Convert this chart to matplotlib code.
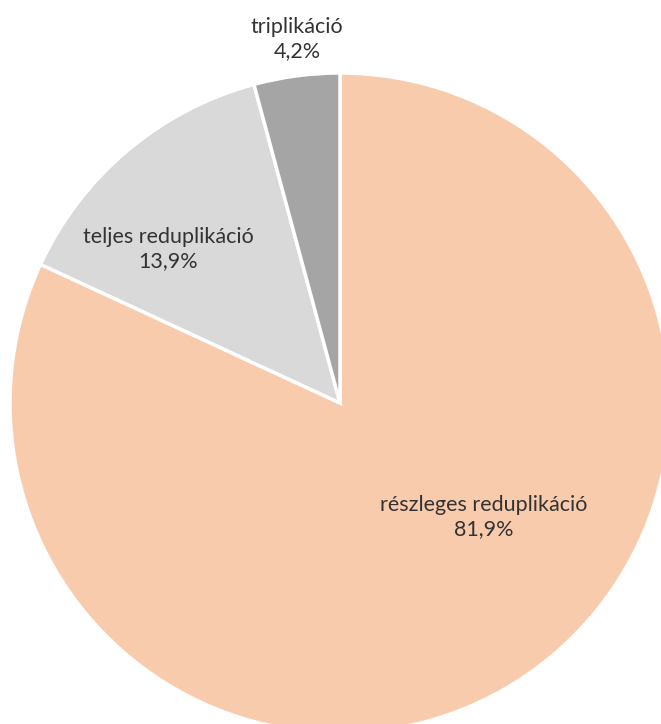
import matplotlib
matplotlib.use("Agg")
import matplotlib.pyplot as plt

labels = ["részleges reduplikáció", "teljes reduplikáció", "triplikáció"]
values = [81.9, 13.9, 4.2]
colors = ["#F8CBAD", "#D9D9D9", "#A5A5A5"]
# label anchor points (axes data units, radius = 1)
label_pos = [(0.436, -0.345), (-0.521, 0.467), (-0.13, 1.103)]

plt.rcParams['font.family'] = ['Lato', 'DejaVu Sans']

fig = plt.figure(figsize=(6.61, 7.24), dpi=100)
W, H = 661, 724
cx, cy, r = 340, 724 - 403, 330
ax = fig.add_axes([(cx - r) / W, (cy - r) / H, 2 * r / W, 2 * r / H])

ax.pie(values, colors=colors, startangle=90, counterclock=False, radius=1,
       wedgeprops=dict(edgecolor="white", linewidth=2.5))
ax.set_xlim(-1, 1)
ax.set_ylim(-1, 1)
ax.set_aspect("equal")
ax.axis("off")

for lab, val, (x, y) in zip(labels, values, label_pos):
    txt = lab + "\n" + ("%.1f%%" % val).replace(".", ",")
    ax.text(x, y, txt, ha="center", va="center", fontsize=15.5,
            color="#333333", linespacing=1.25)

fig.savefig("out.png", dpi=100, facecolor="white")
